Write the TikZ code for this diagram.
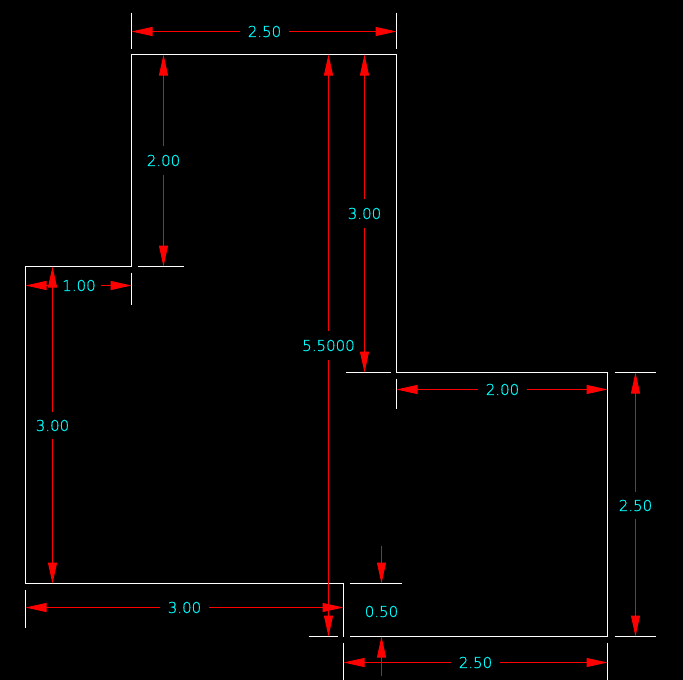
\documentclass[tikz,border=0pt]{standalone}
\usepackage{fontspec}
\setmainfont[FakeBold=0.6]{DejaVu Sans ExtraLight}
\usetikzlibrary{arrows.meta}
\definecolor{dimcyan}{RGB}{0,255,255}
\definecolor{dimred}{RGB}{255,0,0}
\tikzset{
  part/.style={draw=white,line width=1pt,line cap=butt,line join=miter},
  dimline/.style={draw=dimred,line width=1pt,-{Triangle[length=21pt,width=9pt,fill=dimred]}},
  dimtext/.style={text=dimcyan,font=\fontsize{15}{15}\selectfont,inner sep=0pt,minimum width=#1},
  dimtext/.default=48pt
}
\newcommand{\hdim}[7]{% name, x1, x2, y, textx, gap, label
  \coordinate (#1a) at (#2,#4);
  \coordinate (#1b) at (#3,#4);
  \node[dimtext=#6pt,minimum height=14pt] (#1) at (#5,#4) {#7};
  \draw[dimline] (#1.west) -- (#1a);
  \draw[dimline] (#1.east) -- (#1b);
}
\newcommand{\vdim}[7]{% name, x, y1, y2, texty, gap, label
  \coordinate (#1a) at (#2,#3);
  \coordinate (#1b) at (#2,#4);
  \node[dimtext=10pt,minimum height=#6pt] (#1) at (#2,#5) {#7};
  \draw[dimline] (#1.north) -- (#1a);
  \draw[dimline] (#1.south) -- (#1b);
}
\begin{document}
\begin{tikzpicture}[x=1pt,y=-1pt]
\path[fill=black] (0,0) rectangle (683,680);
\useasboundingbox (0,0) rectangle (683,680);
\begin{scope}[shift={(0.5,0.5)}]
% part outline
\draw[part] (343,636) -- (343,583) -- (25,583) -- (25,266) -- (131,266) -- (131,54)
  -- (396,54) -- (396,372) -- (607,372) -- (607,636) -- (349,636);
% extension lines
\draw[part] (131,12) -- (131,48) (396,12) -- (396,48)
  (137,266) -- (183,266) (131,272) -- (131,304)
  (345,372) -- (390,372) (396,378) -- (396,408)
  (614,372) -- (655,372) (614,636) -- (655,636)
  (349,583) -- (401,583) (308,636) -- (337,636)
  (343,642) -- (343,680) (607,642) -- (607,680)
  (25,589) -- (25,627);
% dimensions
\hdim{topw}{131}{396}{31}{264}{48}{2.50}
\vdim{lefth}{163}{54}{266}{160}{28}{2.00}
\hdim{stepw}{25}{131}{285}{78.5}{43}{1.00}
\vdim{lowh}{52}{266}{583}{425}{26}{3.00}
\hdim{botw}{25}{343}{607}{184}{48}{3.00}
\vdim{total}{328}{54}{636}{345}{29}{5.5000}
\vdim{righth}{364}{54}{372}{213}{28}{3.00}
\hdim{armw}{396}{607}{389}{502}{48}{2.00}
\vdim{armh}{635}{372}{636}{505}{27}{2.50}
\hdim{basew}{343}{607}{662}{475}{48}{2.50}
% 0.50 dimension with outside arrows
\coordinate (thka) at (381,545);
\coordinate (thkb) at (381,583);
\coordinate (thkc) at (381,675);
\coordinate (thkd) at (381,636);
\node[dimtext=30pt] (thk) at (381,611) {0.50};
\draw[dimline] (thka) -- (thkb);
\draw[dimline] (thkc) -- (thkd);
\end{scope}
\end{tikzpicture}
\end{document}
